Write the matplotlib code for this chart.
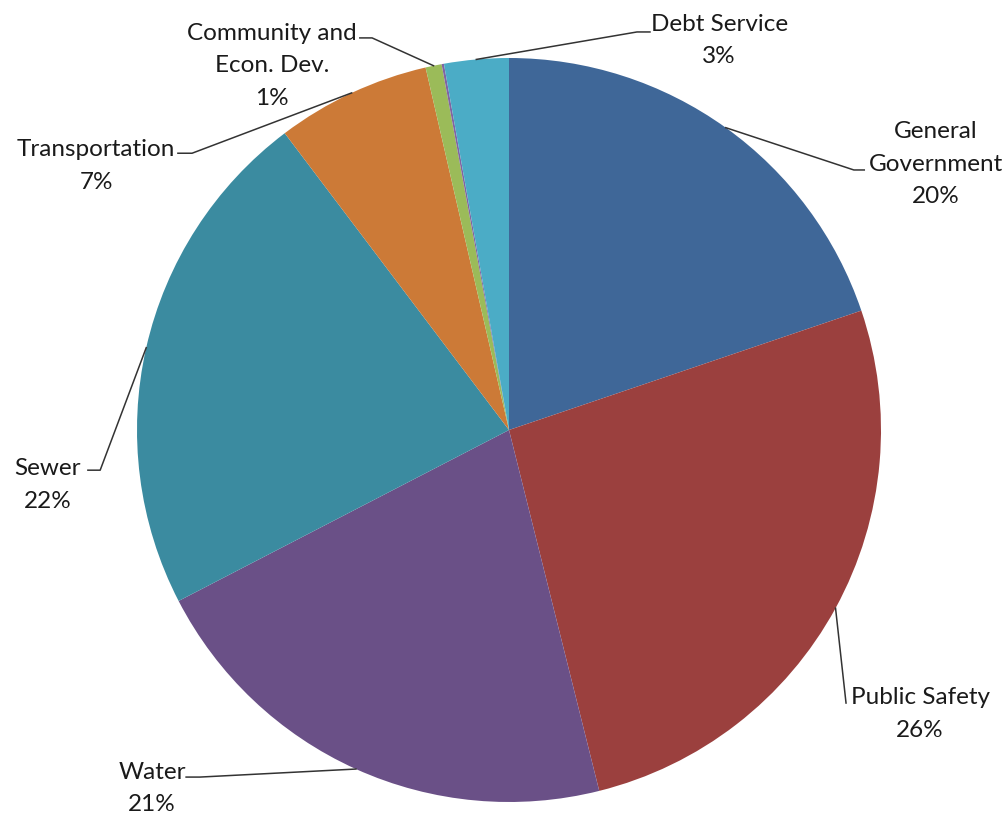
import numpy as np
import matplotlib
matplotlib.use('Agg')
import matplotlib.pyplot as plt

# slices, clockwise from 12 o'clock
categories = ['General\nGovernment', 'Public Safety', 'Water', 'Sewer', 'Transportation',
              'Community and\nEcon. Dev.', '', 'Debt Service']
shares = [19.8, 26.3, 21.3, 22.3, 6.7, 0.7, 0.1, 2.8]
colors = ['#3F6798', '#9B403E', '#6A5087', '#3B8BA0', '#CC7A37', '#9BBB59', '#8064A2', '#4BACC6']

# label layout in data units (pie radius = 1): text centre, elbow, end of horizontal tick
label_pos = [(1.148, 0.714), (1.105, -0.763), (-0.960, -0.964), (-1.240, -0.148),
             (-1.110, 0.709), (-0.637, 0.979), None, (0.565, 1.047)]
elbow_pos = [(0.927, 0.699), (0.906, -0.734), (-0.831, -0.933), (-1.099, -0.108),
             (-0.852, 0.744), (-0.368, 1.054), None, (0.344, 1.070)]
tick_end = [(0.955, 0.699), None, (-0.868, -0.933), (-1.132, -0.108),
            (-0.890, 0.744), (-0.401, 1.054), None, (0.379, 1.070)]

plt.rcParams['font.family'] = ['Lato', 'DejaVu Sans']

fig = plt.figure(figsize=(10.07, 8.14), dpi=100)
ax = fig.add_axes([137 / 1007, 12 / 814, 744 / 1007, 744 / 814])

wedges, _ = ax.pie(shares, colors=colors, startangle=90, counterclock=False,
                   radius=1, wedgeprops=dict(linewidth=0))
ax.set_xlim(-1, 1)
ax.set_ylim(-1, 1)
ax.set_aspect('equal')
ax.axis('off')

total = sum(shares)
for w, name, val, lp, ep, te in zip(wedges, categories, shares, label_pos, elbow_pos, tick_end):
    if lp is None:
        continue
    mid = np.deg2rad((w.theta1 + w.theta2) / 2)
    start = (np.cos(mid), np.sin(mid))
    xs = [start[0], ep[0]]
    ys = [start[1], ep[1]]
    if te is not None:
        xs.append(te[0])
        ys.append(te[1])
    ax.plot(xs, ys, color='#333333', lw=1.1, clip_on=False)
    pct = round(val / total * 100)
    ax.text(lp[0], lp[1], f'{name}\n{pct}%', ha='center', va='center',
            fontsize=17.5, color='#1a1a1a', linespacing=1.68, clip_on=False)

fig.savefig('out.png', dpi=100)
